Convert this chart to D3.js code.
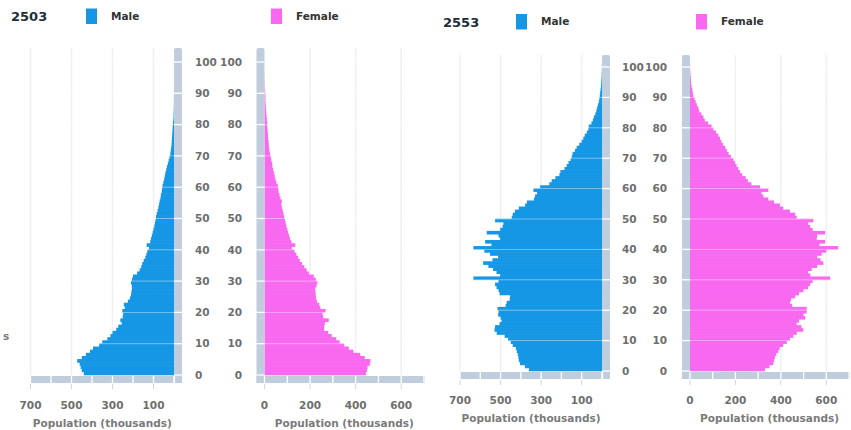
<!DOCTYPE html>
<html><head><meta charset="utf-8">
<script src="https://cdn.jsdelivr.net/npm/d3@7"></script>
<style>
body{margin:0;background:#fff;}
svg{display:block;font-family:"DejaVu Sans",Verdana,sans-serif;}
</style>
</head><body>
<svg id="chart" width="851" height="430"></svg>
<script>
// ---------- DATA ----------
const ages = d3.range(0, 101);
const years = ["2503", "2553"];
const seriesNames = ["Male", "Female"];
const axisTitle = "Population (thousands)";
const maleTickLabels = [700, 500, 300, 100];
const femaleTickLabels = [0, 200, 400, 600];
const ageTicks = [0, 10, 20, 30, 40, 50, 60, 70, 80, 90, 100];

const male2503 = [440,450,455,460,472,450,430,410,395,365, 350,325,310,300,282,272,255,262,250,248,
  252,240,245,225,215,210,208,205,206,210, 205,200,180,168,160,155,148,140,135,130,
  122,133,116,112,108,104,100,96,93,90, 88,84,80,76,73,70,66,64,60,58,
  56,52,48,45,42,38,34,30,26,22, 18,16,14,12,11,10,9,8,7,6,
  5,3,2,2,1,1,0.5,0.5,0.5,0,0,0,0,0,0,0,0,0,0,0,0];
const female2503 = [445,450,452,462,465,440,420,390,370,350, 330,315,295,280,262,262,265,282,258,255,
  268,245,240,230,226,225,224,222,228,232, 225,216,195,185,175,165,155,148,140,132,
  120,135,118,112,108,104,100,96,93,90, 86,83,80,76,74,76,70,66,62,60,
  58,52,48,45,42,38,35,34,30,28, 24,22,20,19,18,16,15,14,13,12,
  12,10,9,8,7,6,5,4,4,4, 3,2,1,1,0.5,0.5,0,0,0,0,0];
const male2553 = [360,380,404,410,412,415,420,425,440,450, 463,480,519,530,527,505,495,500,512,510,
  515,475,470,455,453,505,510,520,527,510, 634,502,520,537,560,586,540,512,552,580,
  634,545,576,502,510,568,502,490,486,527, 445,440,429,410,379,370,335,330,320,338,
  305,260,248,230,210,205,185,174,165,155, 149,145,133,125,112,100,92,85,75,67,
  65,52,45,40,33,28,24,20,16,13, 11,9,7,5,4,3,2,1.5,1,0.5,0.5];
const female2553 = [330,350,367,370,374,380,389,395,410,426, 440,455,470,499,490,470,480,507,500,514,
  514,450,440,445,463,480,499,520,529,540, 617,530,520,536,560,587,575,560,580,600,
  653,570,595,558,560,595,540,529,520,543, 470,463,440,410,396,370,345,323,315,345,
  308,270,255,245,230,220,213,205,198,191, 180,170,162,155,145,138,132,125,115,103,
  95,80,65,59,50,40,37,30,25,20, 15,12,10,7,5,4,3,2,1,0.5,0.5];

// ---------- STYLE / LAYOUT ----------
const maleColor = "#1597e5", femaleColor = "#f969f0", rail = "#bfcddc", gridCol = "#eef0f3";
const labelCol = "#6e6e6e";
const layouts = [
  {year: years[0], male: male2503, female: female2503,
   mx0: 174, mx700: 30.5, fx0: 264.5, fx700: 424, y0: 375, y100: 62, top: 48,
   ageL: 195, ageR: 242, tickY: 405, titleY: 423,
   yearX: 11, yearY: 20.5, legY: 8.5, mLegX: 86, fLegX: 271},
  {year: years[1], male: male2553, female: female2553,
   mx0: 602, mx700: 460, fx0: 690, fx700: 849, y0: 371, y100: 67, top: 55,
   ageL: 622, ageR: 667, tickY: 400, titleY: 418,
   yearX: 443, yearY: 27, legY: 14, mLegX: 516, fLegX: 696}
];

const svg = d3.select("#chart");

layouts.forEach(L => {
  const g = svg.append("g");
  const ys = d3.scaleLinear().domain([0, 100]).range([L.y0, L.y100]);
  const xm = d3.scaleLinear().domain([0, 700]).range([L.mx0, L.mx700]);
  const xf = d3.scaleLinear().domain([0, 700]).range([L.fx0, L.fx700]);

  // gridlines
  g.selectAll(".gm").data(maleTickLabels).join("line")
    .attr("x1", d => xm(d)).attr("x2", d => xm(d)).attr("y1", L.top).attr("y2", L.y0)
    .attr("stroke", gridCol).attr("stroke-width", 1.5);
  g.selectAll(".gf").data(femaleTickLabels.filter(d => d > 0)).join("line")
    .attr("x1", d => xf(d)).attr("x2", d => xf(d)).attr("y1", L.top).attr("y2", L.y0)
    .attr("stroke", gridCol).attr("stroke-width", 1.5);

  // bars (slight overlap to avoid anti-aliasing seams)
  g.append("g").selectAll("rect").data(ages).join("rect")
    .attr("x", a => xm(L.male[a])).attr("width", a => xm(0) - xm(L.male[a]))
    .attr("y", a => ys(a + 1) - 0.3).attr("height", a => ys(a) - ys(a + 1) + 0.6)
    .attr("fill", maleColor);
  g.append("g").selectAll("rect").data(ages).join("rect")
    .attr("x", xf(0)).attr("width", a => xf(L.female[a]) - xf(0))
    .attr("y", a => ys(a + 1) - 0.3).attr("height", a => ys(a) - ys(a + 1) + 0.6)
    .attr("fill", femaleColor);
  // faint separators at age ticks
  g.selectAll(".sep").data(ageTicks.slice(1)).join("line")
    .attr("x1", L.mx700).attr("x2", L.fx700).attr("y1", d => ys(d)).attr("y2", d => ys(d))
    .attr("stroke", "#fff").attr("stroke-width", 0.7).attr("opacity", 0.6);
  // cover gap between panels
  g.append("rect").attr("x", L.mx0 + 8).attr("y", L.top - 5).attr("width", L.fx0 - 8 - L.mx0 - 8)
    .attr("height", L.y0 - L.top + 20).attr("fill", "#fff");

  // rails (axis lines)
  const railG = g.append("g").attr("fill", rail);
  railG.append("rect").attr("x", L.mx0).attr("y", L.top).attr("width", 8).attr("height", L.y0 + 8 - L.top).attr("rx", 2);
  railG.append("rect").attr("x", L.mx700).attr("y", L.y0 + 1).attr("width", L.mx0 + 8 - L.mx700).attr("height", 7);
  railG.append("rect").attr("x", L.fx0 - 8).attr("y", L.top).attr("width", 8).attr("height", L.y0 + 8 - L.top).attr("rx", 2);
  railG.append("rect").attr("x", L.fx0 - 8).attr("y", L.y0 + 1).attr("width", L.fx700 + 1 - (L.fx0 - 8)).attr("height", 7);

  // white gaps on rails
  const gaps = g.append("g").attr("stroke", "#fff").attr("stroke-width", 1.3);
  ageTicks.forEach(t => {
    gaps.append("line").attr("x1", L.mx0).attr("x2", L.mx0 + 8).attr("y1", ys(t)).attr("y2", ys(t));
    gaps.append("line").attr("x1", L.fx0 - 8).attr("x2", L.fx0).attr("y1", ys(t)).attr("y2", ys(t));
  });
  d3.range(0, 701, 100).forEach(v => {
    gaps.append("line").attr("x1", xm(v)).attr("x2", xm(v)).attr("y1", L.y0 + 1).attr("y2", L.y0 + 8);
    gaps.append("line").attr("x1", xf(v)).attr("x2", xf(v)).attr("y1", L.y0 + 1).attr("y2", L.y0 + 8);
  });
  gaps.append("line").attr("x1", L.mx0 + 0.5).attr("x2", L.mx0 + 0.5).attr("y1", L.y0 + 1).attr("y2", L.y0 + 8);

  // small tick marks below rails
  const tk = g.append("g").attr("stroke", "#cfd8e2").attr("stroke-width", 1);
  maleTickLabels.forEach(v => tk.append("line").attr("x1", xm(v)).attr("x2", xm(v)).attr("y1", L.y0 + 9).attr("y2", L.y0 + 14));
  femaleTickLabels.forEach(v => tk.append("line").attr("x1", xf(v)).attr("x2", xf(v)).attr("y1", L.y0 + 9).attr("y2", L.y0 + 14));

  // age labels
  const lab = g.append("g").attr("font-size", 10.5).attr("font-weight", "bold").attr("fill", labelCol);
  lab.selectAll(".al").data(ageTicks).join("text")
    .attr("x", L.ageL).attr("y", d => ys(d)).attr("dy", "0.36em").attr("text-anchor", "start").text(d => d);
  lab.selectAll(".ar").data(ageTicks).join("text")
    .attr("x", L.ageR).attr("y", d => ys(d)).attr("dy", "0.36em").attr("text-anchor", "end").text(d => d);

  // x tick labels
  lab.selectAll(".xm").data(maleTickLabels).join("text")
    .attr("x", d => xm(d)).attr("y", L.tickY).attr("dy", "0.36em").attr("text-anchor", "middle").text(d => d);
  lab.selectAll(".xf").data(femaleTickLabels).join("text")
    .attr("x", d => xf(d)).attr("y", L.tickY).attr("dy", "0.36em").attr("text-anchor", "middle").text(d => d);

  // axis titles
  lab.append("text").attr("x", (L.mx700 + L.mx0) / 2).attr("y", L.titleY).attr("dy", "0.36em")
    .attr("text-anchor", "middle").attr("fill", "#7a7a7a").text(axisTitle);
  lab.append("text").attr("x", (L.fx700 + L.fx0) / 2).attr("y", L.titleY).attr("dy", "0.36em")
    .attr("text-anchor", "middle").attr("fill", "#7a7a7a").text(axisTitle);

  // legend
  g.append("text").attr("x", L.yearX).attr("y", L.yearY).attr("font-size", 13).attr("font-weight", "bold")
    .attr("fill", "#1f2d3a").text(L.year);
  const leg = [{n: seriesNames[0], c: maleColor, x: L.mLegX}, {n: seriesNames[1], c: femaleColor, x: L.fLegX}];
  leg.forEach(d => {
    g.append("rect").attr("x", d.x).attr("y", L.legY).attr("width", 11).attr("height", 15.5).attr("fill", d.c);
    g.append("text").attr("x", d.x + 25).attr("y", L.legY + 7.5).attr("dy", "0.36em")
      .attr("font-size", 10.5).attr("font-weight", "bold").attr("fill", "#333").text(d.n);
  });
});

// stray cut-off label at left edge
svg.append("text").attr("x", 3).attr("y", 340).attr("font-size", 10.5).attr("font-weight", "bold")
  .attr("fill", "#7a7a7a").text("s");
</script>
</body></html>
